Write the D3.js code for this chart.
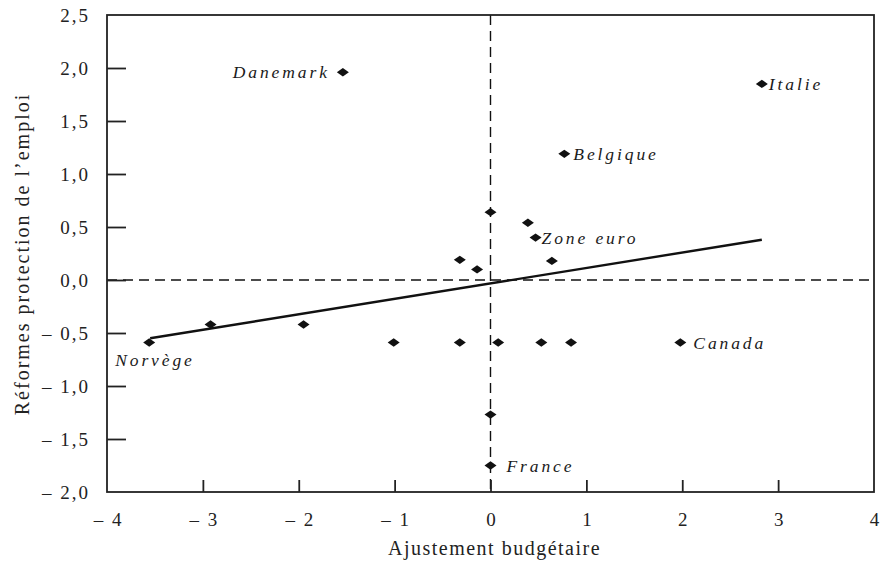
<!DOCTYPE html>
<html><head><meta charset="utf-8">
<script src="https://cdn.jsdelivr.net/npm/d3@7"></script>
<style>body{margin:0;background:#fff}svg{display:block}</style>
</head><body>
<svg id="c" width="886" height="570"></svg>
<script>
const xValues = [-1.54, 2.83, 0.77, 0.00, 0.39, 0.47, -0.32, -0.14, 0.64, -1.95, -2.92, -3.56, -1.01, -0.32, 0.08, 0.53, 0.84, 1.98, 0.00, 0.00];
const yValues = [1.96, 1.85, 1.19, 0.64, 0.54, 0.40, 0.19, 0.10, 0.18, -0.42, -0.42, -0.59, -0.59, -0.59, -0.59, -0.59, -0.59, -0.59, -1.27, -1.75];
const pointLabels = ["Danemark","Italie","Belgique","","","Zone euro","","","","","","Norvège","","","","","","Canada","","France"];
const trendX = [-3.55, 2.83];
const trendY = [-0.55, 0.38];
const xTicks = [-4,-3,-2,-1,0,1,2,3,4];
const yTicks = [-2,-1.5,-1,-0.5,0,0.5,1,1.5,2,2.5];
const xTitle = "Ajustement budgétaire";
const yTitle = "Réformes protection de l’emploi";

const L=107,R=874,T=15,B=492;
const svg=d3.select("#c");
const x=d3.scaleLinear().domain([-4,4]).range([L,R]);
const y=d3.scaleLinear().domain([-2,2.5]).range([B,T]);
const fmtY=v=>{const s=Math.abs(v).toFixed(1).replace(".",",");return v<0?"– "+s:s;};
const fmtX=v=>v<0?"– "+Math.abs(v):String(v);
const font="Liberation Serif";

// reference lines
svg.append("line").attr("x1",L).attr("x2",R).attr("y1",y(0)).attr("y2",y(0))
 .attr("stroke","#111").attr("stroke-width",1.4).attr("stroke-dasharray","10,6");
svg.append("line").attr("x1",x(0)).attr("x2",x(0)).attr("y1",T).attr("y2",B)
 .attr("stroke","#111").attr("stroke-width",1.4).attr("stroke-dasharray","10,6");

// frame
svg.append("rect").attr("x",L).attr("y",T).attr("width",R-L).attr("height",B-T)
 .attr("fill","none").attr("stroke","#222").attr("stroke-width",1.8);

// axes
const xa=svg.append("g").attr("transform",`translate(0,${B})`)
 .call(d3.axisBottom(x).tickValues(xTicks).tickFormat(fmtX).tickSizeInner(-12).tickSizeOuter(0).tickPadding(21));
const ya=svg.append("g").attr("transform",`translate(${L},0)`)
 .call(d3.axisLeft(y).tickValues(yTicks).tickFormat(fmtY).tickSizeInner(-19).tickSizeOuter(0).tickPadding(36));
[xa,ya].forEach(a=>{
  a.attr("font-family",font).attr("font-size",19);
  a.select(".domain").remove();
  a.selectAll(".tick line").attr("stroke","#222").attr("stroke-width",1.8);
  a.selectAll(".tick text").attr("fill","#222").attr("font-family",font)
   .style("font-family",font).style("font-size","19px").style("letter-spacing","2px");
});
ya.selectAll(".tick").filter(d=>d===2.5||d===-2).select("line").remove();
xa.selectAll(".tick").filter(d=>d===-4||d===4).select("line").remove();
ya.selectAll(".tick text").attr("dx","19");
xa.selectAll(".tick text").attr("dx","1");

// titles
svg.append("text").attr("x",(L+R)/2+4).attr("y",555).attr("text-anchor","middle")
 .style("font-family",font).style("font-size","20px").style("letter-spacing","1.5px").attr("fill","#222").text(xTitle);
svg.append("text").attr("transform",`translate(29,${254}) rotate(-90)`).attr("text-anchor","middle")
 .style("font-family",font).style("font-size","20px").style("letter-spacing","2px").attr("fill","#222").text(yTitle);

// trend line
svg.append("path").datum(d3.zip(trendX,trendY))
 .attr("d",d3.line().x(d=>x(d[0])).y(d=>y(d[1])))
 .attr("stroke","#111").attr("stroke-width",2.4).attr("fill","none");

// points
const data=xValues.map((v,i)=>({x:v,y:yValues[i],label:pointLabels[i]}));
svg.append("g").selectAll("path").data(data).join("path")
 .attr("transform",d=>`translate(${x(d.x)},${y(d.y)})`)
 .attr("d","M-6,0L0,-4.2L6,0L0,4.2Z").attr("fill","#111");

// labels
const pos={
 "Danemark":{dx:-13,dy:0,anchor:"end"},
 "Italie":{dx:7,dy:0,anchor:"start"},
 "Belgique":{dx:9,dy:0,anchor:"start"},
 "Zone euro":{dx:6,dy:0,anchor:"start"},
 "Canada":{dx:13,dy:0,anchor:"start"},
 "Norvège":{dx:-34,dy:17,anchor:"start"},
 "France":{dx:16,dy:0,anchor:"start"}
};
svg.append("g").selectAll("text").data(data.filter(d=>d.label)).join("text")
 .attr("x",d=>x(d.x)+pos[d.label].dx).attr("y",d=>y(d.y)+pos[d.label].dy)
 .attr("dy","0.35em").attr("text-anchor",d=>pos[d.label].anchor)
 .style("font-family",font).style("font-style","italic").style("font-size","17.5px")
 .style("letter-spacing","2.9px").attr("fill","#1a1a1a").text(d=>d.label);
</script>
</body></html>
